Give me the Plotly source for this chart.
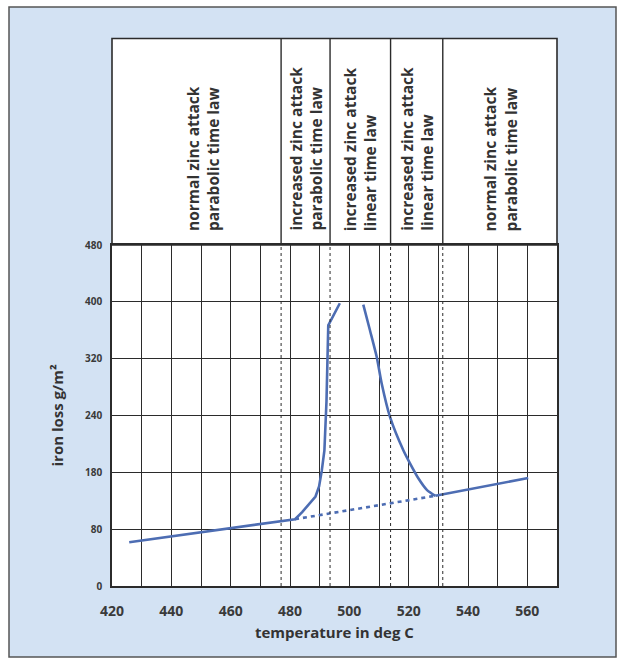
import plotly.graph_objects as go

# Iron loss versus bath temperature
temp_rise = [425.8, 481.7, 484.1, 486.7, 488.6, 489.8, 490.7, 491.6, 492.3, 492.9, 496.8]
loss_rise = [61.5, 94, 104, 116, 126, 140, 162, 191, 260, 367, 398]

temp_fall = [504.7, 506.95, 509.2, 510.9, 513.7, 518.2, 520.4, 523.2, 526.2, 529.0]
loss_fall = [396, 360, 323, 285, 238, 191, 173, 152, 135, 127]

temp_high = [529.0, 560.3]
loss_high = [127, 152]

temp_base = [481.7, 529.0]
loss_base = [94, 127]

# Regime boundaries (deg C) and the regime labels
boundaries = [477.0, 493.5, 513.9, 531.5]
regimes = [
    "normal zinc attack<br>parabolic time law",
    "increased zinc attack<br>parabolic time law",
    "increased zinc attack<br>linear time law",
    "increased zinc attack<br>linear time law",
    "normal zinc attack<br>parabolic time law",
]

x_ticks = list(range(420, 561, 10))
x_text = [str(v) if v % 20 == 0 else "" for v in x_ticks]
y_ticks = [0, 80, 160, 240, 320, 400, 480]
y_text = ["0", "80", "180", "240", "320", "400", "480"]

X_MIN, X_MAX = 420, 570
Y_MIN, Y_MAX = 0, 480

W, H = 617, 659
L, R, T, B = 112, 60, 245, 73
PW, PH = W - L - R, H - T - B

def px_x(p):
    return (p - L) / PW

def px_y(p):
    return (H - B - p) / PH

HEADER_TOP = px_y(38.5)
LINE_BLUE = "#4d6db3"
INK = "#2b2b2b"
PANEL = "#d3e2f3"
FONT = "Open Sans"

fig = go.Figure()

fig.add_trace(go.Scatter(x=temp_rise, y=loss_rise, mode="lines",
                         line=dict(color=LINE_BLUE, width=2.6), hoverinfo="skip"))
fig.add_trace(go.Scatter(x=temp_fall, y=loss_fall, mode="lines",
                         line=dict(color=LINE_BLUE, width=2.6, shape="spline", smoothing=0.6),
                         hoverinfo="skip"))
fig.add_trace(go.Scatter(x=temp_high, y=loss_high, mode="lines",
                         line=dict(color=LINE_BLUE, width=2.6), hoverinfo="skip"))
fig.add_trace(go.Scatter(x=temp_base, y=loss_base, mode="lines",
                         line=dict(color=LINE_BLUE, width=2.6, dash="4px,4px"),
                         hoverinfo="skip"))

shapes = [
    # light blue panel behind everything
    dict(type="rect", xref="paper", yref="paper", layer="below",
         x0=px_x(9), x1=px_x(616), y0=px_y(657), y1=px_y(7),
         fillcolor=PANEL, line=dict(color="#555555", width=1.5)),
    # white header + plotting area
    dict(type="rect", xref="paper", yref="paper", layer="below",
         x0=0, x1=1, y0=0, y1=HEADER_TOP,
         fillcolor="white", line=dict(width=0)),
    # header frame
    dict(type="rect", xref="paper", yref="paper", layer="above",
         x0=0, x1=1, y0=1, y1=HEADER_TOP,
         fillcolor="rgba(0,0,0,0)", line=dict(color=INK, width=1.6)),
]
for b in boundaries:
    shapes.append(dict(type="line", xref="x", yref="paper", layer="above",
                       x0=b, x1=b, y0=1, y1=HEADER_TOP,
                       line=dict(color=INK, width=1.4)))
    shapes.append(dict(type="line", xref="x", yref="paper", layer="above",
                       x0=b, x1=b, y0=0, y1=1,
                       line=dict(color=INK, width=1, dash="3px,3px")))

edges = [X_MIN] + boundaries + [X_MAX]
annotations = []
for i, label in enumerate(regimes):
    xc = (edges[i] + edges[i + 1]) / 2
    if i == 0:
        xc += 2
    annotations.append(dict(
        x=xc, y=px_y(233), xref="x", yref="paper",
        text=label, textangle=-90, showarrow=False,
        xanchor="center", yanchor="bottom", align="left",
        font=dict(family=FONT, size=15.5, color="#333333", weight=700)))

annotations.append(dict(
    x=0.5, y=px_y(632), xref="paper", yref="paper",
    text="temperature in deg C", showarrow=False,
    xanchor="center", yanchor="middle",
    font=dict(family=FONT, size=15, color="#333333", weight=700)))
annotations.append(dict(
    x=px_x(56), y=0.5, xref="paper", yref="paper",
    text="iron loss g/m²", textangle=-90, showarrow=False,
    xanchor="center", yanchor="middle",
    font=dict(family=FONT, size=15, color="#333333", weight=700)))

fig.update_layout(
    width=W, height=H,
    margin=dict(l=L, r=R, t=T, b=B, pad=0),
    paper_bgcolor="white",
    plot_bgcolor="rgba(0,0,0,0)",
    showlegend=False,
    shapes=shapes,
    annotations=annotations,
    xaxis=dict(range=[X_MIN, X_MAX], tickvals=x_ticks, ticktext=x_text,
               showgrid=True, gridcolor=INK, gridwidth=1, zeroline=False,
               showline=True, linecolor=INK, linewidth=1.6, mirror=True,
               ticks="", ticklabelstandoff=11,
               tickfont=dict(family=FONT, size=14, color="#3a3a3a", weight=700)),
    yaxis=dict(range=[Y_MIN, Y_MAX], tickvals=y_ticks, ticktext=y_text,
               showgrid=True, gridcolor=INK, gridwidth=1.2, zeroline=False,
               showline=True, linecolor=INK, linewidth=1.6, mirror=True,
               ticks="", ticklabelstandoff=6,
               tickfont=dict(family=FONT, size=10, color="#3a3a3a", weight=700)),
)

fig.write_html("out.html")
